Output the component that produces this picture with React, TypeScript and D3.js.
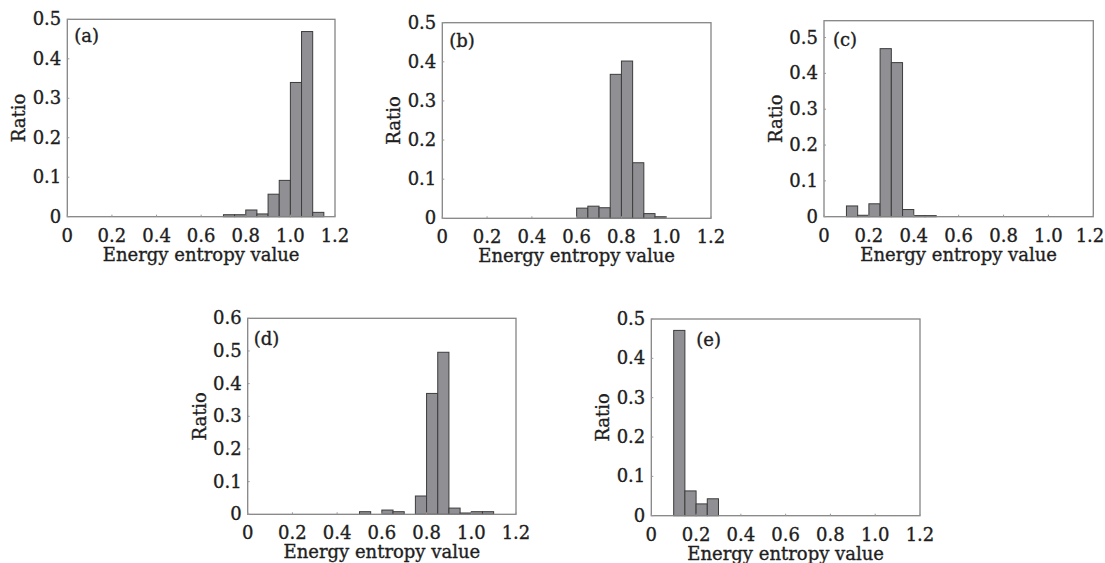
import React from "react";
import * as d3 from "d3";

// Bin starts (width 0.05) and ratio values for each panel
const binWidth = 0.05;
const binsA = [0.7, 0.75, 0.8, 0.85, 0.9, 0.95, 1.0, 1.05, 1.1];
const valsA = [0.005, 0.005, 0.017, 0.007, 0.057, 0.092, 0.34, 0.469, 0.011];
const binsB = [0.6, 0.65, 0.7, 0.75, 0.8, 0.85, 0.9, 0.95];
const valsB = [0.026, 0.031, 0.027, 0.368, 0.402, 0.142, 0.012, 0.004];
const binsC = [0.1, 0.15, 0.2, 0.25, 0.3, 0.35, 0.4, 0.45];
const valsC = [0.03, 0.004, 0.036, 0.469, 0.43, 0.02, 0.003, 0.003];
const binsD = [0.5, 0.55, 0.6, 0.65, 0.7, 0.75, 0.8, 0.85, 0.9, 0.95, 1.0, 1.05];
const valsD = [0.008, 0, 0.013, 0.008, 0, 0.056, 0.37, 0.496, 0.019, 0.004, 0.008, 0.008];
const binsE = [0.1, 0.15, 0.2, 0.25];
const valsE = [0.471, 0.063, 0.03, 0.043];

const xTicks = [0, 0.2, 0.4, 0.6, 0.8, 1.0, 1.2];
const yTicks5 = [0, 0.1, 0.2, 0.3, 0.4, 0.5];
const yTicks6 = [0, 0.1, 0.2, 0.3, 0.4, 0.5, 0.6];
const panelLabels = ["(a)", "(b)", "(c)", "(d)", "(e)"];
const xTitle = "Energy entropy value";
const yTitle = "Ratio";

const panels = [
  { label: panelLabels[0], bins: binsA, vals: valsA, ymax: 0.5, yTicks: yTicks5, l: 67.3, r: 335, t: 19.3, b: 216.7, lx: 7, ly: 23 },
  { label: panelLabels[1], bins: binsB, vals: valsB, ymax: 0.5, yTicks: yTicks5, l: 442.3, r: 711, t: 22.7, b: 218.3, lx: 7, ly: 24 },
  { label: panelLabels[2], bins: binsC, vals: valsC, ymax: 0.547, yTicks: yTicks5, l: 824, r: 1093.3, t: 20.7, b: 216.7, lx: 9, ly: 25 },
  { label: panelLabels[3], bins: binsD, vals: valsD, ymax: 0.6, yTicks: yTicks6, l: 247.7, r: 516, t: 318.3, b: 514.3, lx: 6, ly: 27 },
  { label: panelLabels[4], bins: binsE, vals: valsE, ymax: 0.5, yTicks: yTicks5, l: 651.3, r: 920, t: 319, b: 515.7, lx: 45, ly: 27 },
];

const FONT = "'DejaVu Serif', serif";
const TEXT = "#1e1e1e";
const FS = 18;
const textStyle = { fontFamily: FONT, fontSize: FS, fill: TEXT, stroke: TEXT, strokeWidth: 0.35 } as const;

function Panel({ p }: { p: (typeof panels)[number] }) {
  const x = d3.scaleLinear().domain([0, 1.2]).range([p.l, p.r]);
  const y = d3.scaleLinear().domain([0, p.ymax]).range([p.b, p.t]);
  const fmt = (v: number) => (v === 0 ? "0" : d3.format(".1f")(v));
  return (
    <g>
      {p.bins.map((b0, i) =>
        p.vals[i] > 0 ? (
          <rect
            key={i}
            x={x(b0)}
            y={y(p.vals[i])}
            width={x(b0 + binWidth) - x(b0)}
            height={y(0) - y(p.vals[i])}
            fill="#909094"
            stroke="#3c3c3c"
            strokeWidth={1}
          />
        ) : null
      )}
      <rect x={p.l} y={p.t} width={p.r - p.l} height={p.b - p.t} fill="none" stroke="#858585" strokeWidth={1.3} />
      {xTicks.map((v) => (
        <g key={"x" + v}>
          <line x1={x(v)} x2={x(v)} y1={p.b} y2={p.b - 2} stroke="#999" />
          <text x={Math.min(x(v), 1090)} y={p.b + 25} textAnchor="middle" style={textStyle}>
            {fmt(v)}
          </text>
        </g>
      ))}
      {p.yTicks.map((v) => (
        <g key={"y" + v}>
          <line x1={p.l} x2={p.l + 2} y1={y(v)} y2={y(v)} stroke="#999" />
          <text x={p.l - 6} y={y(v) + 6} textAnchor="end" style={textStyle}>
            {fmt(v)}
          </text>
        </g>
      ))}
      <text x={(p.l + p.r) / 2} y={p.b + 44} textAnchor="middle" style={textStyle}>
        {xTitle}
      </text>
      <text
        transform={`translate(${p.l - 42},${(p.t + p.b) / 2}) rotate(-90)`}
        textAnchor="middle"
        style={textStyle}
      >
        {yTitle}
      </text>
      <text x={p.l + p.lx} y={p.t + p.ly} style={textStyle}>
        {p.label}
      </text>
    </g>
  );
}

export default function App() {
  return (
    <svg
      width={1105}
      height={563}
      style={{ position: "absolute", left: 0, top: 0, background: "#fff" }}
    >
      <rect width={1105} height={563} fill="#fff" />
      {panels.map((p) => (
        <Panel key={p.label} p={p} />
      ))}
    </svg>
  );
}
